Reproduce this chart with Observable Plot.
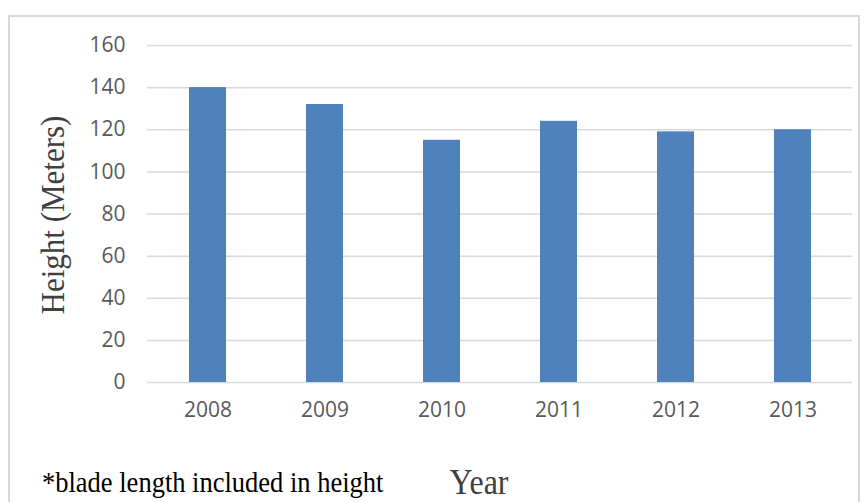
<!DOCTYPE html>
<html><head><meta charset="utf-8">
<script src="https://cdn.jsdelivr.net/npm/d3@7"></script>
<script src="https://cdn.jsdelivr.net/npm/@observablehq/plot@0.6"></script>
<style>
body{margin:0;background:#fff;}
#wrap{position:relative;width:866px;height:502px;overflow:hidden;}
#frame{position:absolute;left:8px;top:15px;width:852px;height:500px;border:2px solid #d9d9d9;box-sizing:border-box;}
.lbl{position:absolute;font-family:"Liberation Serif","Times New Roman",serif;color:#404040;white-space:nowrap;line-height:1;}
</style></head>
<body><div id="wrap"><div id="frame"></div></div>
<script>
const years = ["2008","2009","2010","2011","2012","2013"];
const heights = [140, 132, 115, 124, 119, 120];
const yTicks = [0,20,40,60,80,100,120,140,160];
const yLabel = "Height (Meters)";
const xLabel = "Year";
const note = "*blade length included in height";

const data = years.map((y,i)=>({year:y, h:heights[i]}));
const chart = Plot.plot({
  width:866, height:502,
  marginLeft:147, marginRight:14, marginTop:45, marginBottom:120,
  style:{fontFamily:"'Open Sans', sans-serif", fontSize:"21px", color:"#595959", background:"transparent"},
  x:{domain:years, paddingInner:0.685, paddingOuter:0.3425, label:null, tickSize:0, tickPadding:20},
  y:{domain:[0,160], ticks:yTicks, label:null, tickSize:0, tickPadding:22},
  marks:[
    Plot.gridY(yTicks,{stroke:"#d9d9d9", strokeOpacity:1, strokeWidth:1.5}),
    Plot.barY(data,{x:"year", y:"h", fill:"#4f81bd"})
  ]
});
chart.style.position="absolute"; chart.style.left="0"; chart.style.top="0";
const wrap=document.getElementById("wrap");
wrap.appendChild(chart);
function addLabel(text, css){const d=document.createElement("div");d.className="lbl";d.textContent=text;Object.assign(d.style,css);wrap.appendChild(d);return d;}
addLabel(yLabel,{left:"52px",top:"215px",fontSize:"31px",transform:"translate(-50%,-50%) rotate(-90deg) scale(1,1.1)"});
addLabel(xLabel,{left:"479px",top:"481px",fontSize:"32px",transform:"translate(-50%,-50%) scale(1,1.15)"});
addLabel(note,{left:"42px",top:"482px",fontSize:"26.5px",color:"#000",transform:"translate(0,-50%) scale(1,1.1)",transformOrigin:"0 50%"});
</script></body></html>
